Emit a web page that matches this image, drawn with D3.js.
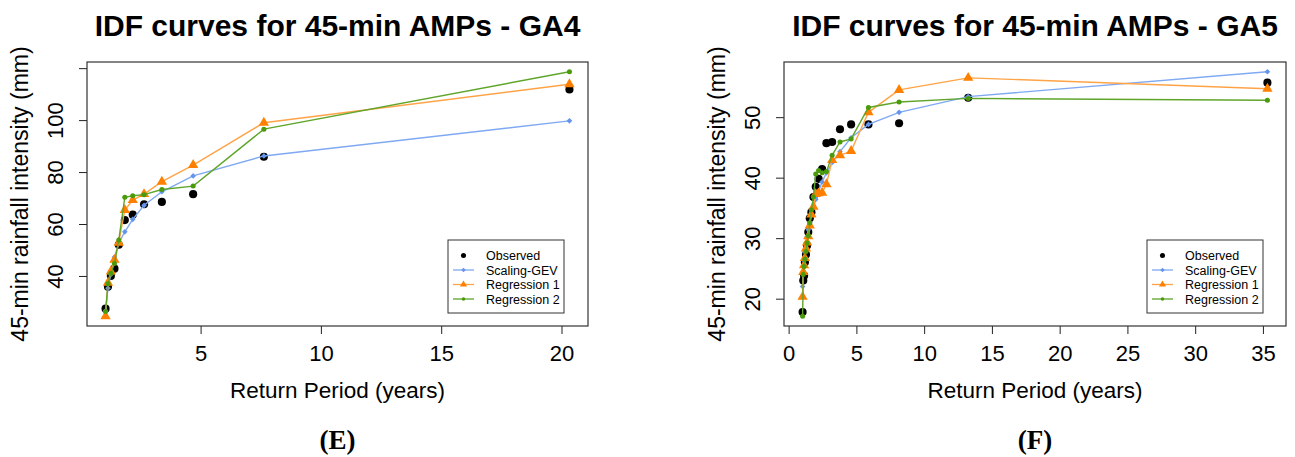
<!DOCTYPE html>
<html>
<head>
<meta charset="utf-8">
<script src="https://cdn.jsdelivr.net/npm/d3@7/dist/d3.min.js"></script>
<style>
  html, body { margin: 0; padding: 0; background: #fff; }
  svg { display: block; }
  text { font-family: "Liberation Sans", Arial, Helvetica, sans-serif; fill: #000; }
</style>
</head>
<body>
<svg id="chart" width="1295" height="457"></svg>
<script>
// ---- data -------------------------------------------------------------
const seriesNames = ["Observed", "Scaling-GEV", "Regression 1", "Regression 2"];

// GA4 station, 45-min annual maximum precipitation
const ga4Period      = [1.05, 1.15, 1.27, 1.42, 1.60, 1.85, 2.18, 2.65, 3.39, 4.69, 7.63, 20.33];
const ga4Observed    = [27.4, 35.8, 40.0, 42.8, 52.0, 61.5, 63.6, 67.6, 68.5, 71.5, 85.9, 111.8];
const ga4ScalingGEV  = [26.6, 35.3, 40.6, 47.3, 52.6, 57.0, 61.8, 67.2, 72.4, 78.5, 86.2, 99.7];
const ga4Regression1 = [24.5, 37.4, 41.7, 46.2, 52.8, 65.4, 69.2, 71.5, 76.3, 82.7, 99.0, 113.8];
const ga4Regression2 = [26.3, 37.0, 41.0, 44.8, 53.8, 70.3, 70.9, 71.3, 73.3, 74.6, 96.5, 118.6];
const ga4XTicks = [5, 10, 15, 20];
const ga4YTicks = [40, 60, 80, 100, 120];
const ga4YTickLabels = ["40", "60", "80", "100", ""];

// GA5 station, 45-min annual maximum precipitation
const ga5Period      = [1.03, 1.08, 1.14, 1.20, 1.28, 1.36, 1.45, 1.56, 1.68, 1.83, 2.00,
                        2.21, 2.47, 2.79, 3.21, 3.79, 4.61, 5.89, 8.15, 13.25, 35.33];
const ga5Observed    = [17.8, 23.0, 23.8, 26.0, 27.3, 28.8, 31.0, 33.3, 34.3, 36.8, 38.5,
                        39.8, 41.4, 45.7, 45.9, 48.0, 48.8, 48.8, 49.0, 53.2, 55.7];
const ga5ScalingGEV  = [22.0, 24.5, 26.3, 27.7, 29.0, 30.2, 31.4, 32.6, 33.8, 35.1, 36.4,
                        37.8, 39.3, 40.8, 42.5, 44.3, 46.6, 48.8, 50.8, 53.4, 57.5];
const ga5Regression1 = [20.3, 24.4, 25.5, 26.7, 28.3, 29.3, 30.3, 32.1, 33.9, 35.2, 37.3,
                        37.4, 37.5, 38.9, 42.9, 43.7, 44.4, 50.8, 54.5, 56.5, 54.7];
const ga5Regression2 = [17.1, 24.0, 25.3, 26.5, 27.8, 29.2, 30.4, 32.5, 34.7, 36.8, 40.6,
                        41.2, 40.8, 41.0, 43.7, 45.9, 46.4, 51.6, 52.5, 53.1, 52.8];
const ga5XTicks = [0, 5, 10, 15, 20, 25, 30, 35];
const ga5YTicks = [20, 30, 40, 50];
const ga5YTickLabels = ["20", "30", "40", "50"];

// ---- styling ----------------------------------------------------------
const styles = [
  { color: "#000000", line: null,      symbol: "circle",   size: 52 },
  { color: "#6495ED", line: "#7FA9F2", symbol: "diamond",  size: 16 },
  { color: "#FF8000", line: "#FFA347", symbol: "triangle", size: 46 },
  { color: "#4A9A0C", line: "#5EA52A", symbol: "circle",   size: 20 }
];

function symbolPath(kind, size) {
  if (kind === "triangle") return d3.symbol(d3.symbolTriangle, size)();
  if (kind === "diamond") {
    const h = Math.sqrt(size * 2) / 2;   // half diagonal of a 45° square
    return `M0,${-h}L${h},0L0,${h}L${-h},0Z`;
  }
  return d3.symbol(d3.symbolCircle, size)();
}

// R-style padded extent (4% each side)
function padded(values) {
  const [lo, hi] = d3.extent(values);
  const pad = (hi - lo) * 0.04;
  return [lo - pad, hi + pad];
}

const svg = d3.select("#chart");
const axisFont = "22px";

function drawPanel(cfg) {
  const { left, right, top, bottom } = cfg.box;
  const g = svg.append("g");

  const x = d3.scaleLinear().domain(padded(cfg.period)).range([left, right]);
  const y = d3.scaleLinear()
    .domain(padded(cfg.series.flat()))
    .range([bottom, top]);

  // title
  g.append("text")
    .attr("x", (left + right) / 2).attr("y", 36)
    .attr("text-anchor", "middle")
    .style("font-size", "30px").style("font-weight", "bold")
    .text(cfg.title);

  // x axis
  const xAxis = d3.axisBottom(x).tickValues(cfg.xTicks).tickSize(8).tickPadding(11)
    .tickFormat(d3.format("d"));
  const gx = g.append("g").attr("transform", `translate(0,${bottom})`).call(xAxis);
  gx.select(".domain").remove();
  gx.selectAll(".tick line").attr("stroke", "#222");
  gx.selectAll(".tick text")
    .style("font-size", axisFont)
    .style("font-family", "'Liberation Sans', Arial, sans-serif")
    .attr("fill", "#000");

  // y axis with labels running parallel to the axis
  const yAxis = d3.axisLeft(y).tickValues(cfg.yTicks).tickSize(8)
    .tickFormat((d, i) => cfg.yTickLabels[i]);
  const gy = g.append("g").attr("transform", `translate(${left},0)`).call(yAxis);
  gy.select(".domain").remove();
  gy.selectAll(".tick line").attr("stroke", "#222");
  gy.selectAll(".tick text")
    .attr("x", null).attr("dy", null)
    .attr("transform", "translate(-24,0) rotate(-90)")
    .attr("text-anchor", "middle")
    .attr("y", 0)
    .style("font-size", axisFont)
    .style("font-family", "'Liberation Sans', Arial, sans-serif")
    .attr("fill", "#000");

  // axis titles
  g.append("text")
    .attr("x", (left + right) / 2).attr("y", 398)
    .attr("text-anchor", "middle")
    .style("font-size", "22.5px")
    .text("Return Period (years)");
  g.append("text")
    .attr("transform", `translate(${left - 59},${(top + bottom) / 2}) rotate(-90)`)
    .attr("text-anchor", "middle")
    .style("font-size", "23px")
    .text("45-min rainfall intensity (mm)");

  // panel letter
  g.append("text")
    .attr("x", (left + right) / 2).attr("y", 449)
    .attr("text-anchor", "middle")
    .style("font-family", "'Liberation Serif', 'Times New Roman', serif")
    .style("font-size", "27px").style("font-weight", "bold")
    .text(cfg.letter);

  // series: observed points, then model curves with markers
  const line = d3.line().x((d, i) => x(cfg.period[i])).y(d => y(d));
  cfg.series.forEach((vals, s) => {
    const st = styles[s];
    if (st.line) {
      g.append("path").datum(vals)
        .attr("d", line)
        .attr("fill", "none")
        .attr("stroke", st.line)
        .attr("stroke-width", 1.4);
    }
    g.append("g").selectAll("path").data(vals).join("path")
      .attr("transform", (d, i) => `translate(${x(cfg.period[i])},${y(d)})`)
      .attr("d", symbolPath(st.symbol, st.size))
      .attr("fill", st.color);
  });

  // frame
  g.append("rect")
    .attr("x", left).attr("y", top)
    .attr("width", right - left).attr("height", bottom - top)
    .attr("fill", "none").attr("stroke", "#333").attr("stroke-width", 1.2);

  // legend
  const lg = g.append("g").attr("transform", `translate(${cfg.legend.x},${cfg.legend.y})`);
  lg.append("rect")
    .attr("width", 116).attr("height", 73)
    .attr("fill", "#fff").attr("stroke", "#333").attr("stroke-width", 1);
  seriesNames.forEach((name, s) => {
    const st = styles[s];
    const ry = 15.5 + s * 14.5;
    if (st.line) {
      lg.append("line")
        .attr("x1", 5).attr("x2", 26).attr("y1", ry).attr("y2", ry)
        .attr("stroke", st.line).attr("stroke-width", 1.3);
    }
    lg.append("path")
      .attr("transform", `translate(15.5,${ry})`)
      .attr("d", symbolPath(st.symbol, s === 0 ? 20 : (s === 2 ? 22 : 10)))
      .attr("fill", st.color);
    lg.append("text")
      .attr("x", 38).attr("y", ry + 4.5)
      .style("font-size", "12.5px")
      .text(name);
  });
}

drawPanel({
  title: "IDF curves for 45-min AMPs - GA4",
  letter: "(E)",
  box: { left: 87, right: 588, top: 62, bottom: 326 },
  legend: { x: 448, y: 240 },
  period: ga4Period,
  series: [ga4Observed, ga4ScalingGEV, ga4Regression1, ga4Regression2],
  xTicks: ga4XTicks, yTicks: ga4YTicks, yTickLabels: ga4YTickLabels
});

drawPanel({
  title: "IDF curves for 45-min AMPs - GA5",
  letter: "(F)",
  box: { left: 784, right: 1286, top: 62, bottom: 326 },
  legend: { x: 1147, y: 240 },
  period: ga5Period,
  series: [ga5Observed, ga5ScalingGEV, ga5Regression1, ga5Regression2],
  xTicks: ga5XTicks, yTicks: ga5YTicks, yTickLabels: ga5YTickLabels
});
</script>
</body>
</html>
